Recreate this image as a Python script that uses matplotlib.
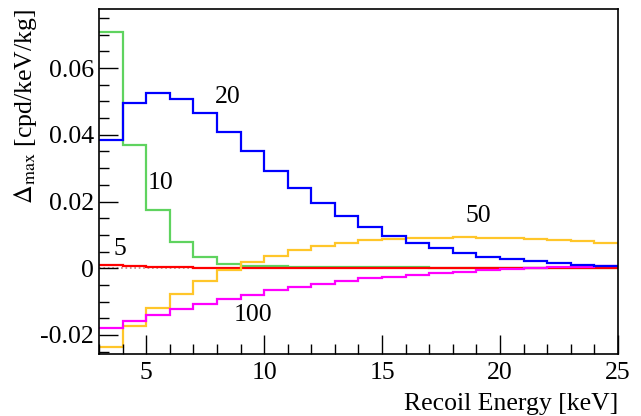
import numpy as np
import matplotlib
matplotlib.use("Agg")
import matplotlib.pyplot as plt
from matplotlib.ticker import MultipleLocator

plt.rcParams['font.family'] = ['Liberation Serif', 'DejaVu Serif']
plt.rcParams['mathtext.fontset'] = 'stix'

# bin edges in keV (1 keV bins from 3 to 25)
edges = np.arange(3, 26)

# Delta_max per bin for each mass [GeV]
d5 = [0.0011, 0.0007, 0.0005, 0.0003, 0.0002, 0.0001, 0.0001, 0.0001, 0.0001, 0.0001, 0.0001,
      0.0001, 0.0001, 0.0001, 0.0001, 0.0001, 0.0001, 0.0001, 0.0001, 0.0001, 0.0001, 0.0001]
d10 = [0.0707, 0.0368, 0.0176, 0.0080, 0.0035, 0.0013, 0.0007, 0.0007, 0.0005, 0.0004, 0.0004,
       0.0003, 0.0003, 0.0003, 0.0002, 0.0002, 0.0002, 0.0002, 0.0001, 0.0001, 0.0001, 0.0001]
d20 = [0.0385, 0.0496, 0.0526, 0.0508, 0.0465, 0.0408, 0.0350, 0.0292, 0.0240, 0.0195, 0.0158,
       0.0125, 0.0097, 0.0077, 0.0060, 0.0045, 0.0035, 0.0028, 0.0022, 0.0016, 0.0011, 0.0008]
d50 = [-0.0237, -0.0174, -0.0120, -0.0076, -0.0037, -0.0004, 0.0019, 0.0038, 0.0055, 0.0067, 0.0077,
       0.0085, 0.0089, 0.0090, 0.0092, 0.0093, 0.0092, 0.0090, 0.0087, 0.0084, 0.0081, 0.0077]
d100 = [-0.0179, -0.0158, -0.0139, -0.0122, -0.0107, -0.0092, -0.0079, -0.0066, -0.0056, -0.0046, -0.0037,
        -0.0030, -0.0025, -0.0021, -0.0014, -0.0010, -0.0005, -0.0002, 0.0002, 0.0004, 0.0005, 0.0007]

yticks = [-0.02, 0, 0.02, 0.04, 0.06]
ytick_labels = ['-0.02', '0', '0.02', '0.04', '0.06']
xticks = [5, 10, 15, 20, 25]

fig = plt.figure(figsize=(6.41, 4.16), dpi=100)
ax = fig.add_axes([0.1544, 0.149, 0.8097, 0.8294])

ax.axhline(0, color='#c08080', ls=':', lw=1.2, zorder=1)
ax.stairs(d10, edges, color='#5fd35f', lw=1.6, baseline=None)
ax.stairs(d5, edges, color='#ff0000', lw=1.6, baseline=None)
ax.stairs(d50, edges, color='#ffc62a', lw=1.6, baseline=None)
ax.stairs(d100, edges, color='#ff00ff', lw=1.6, baseline=None)
ax.stairs(d20, edges, color='#0000ff', lw=1.6, baseline=None)

fs = 18.5
ax.text(8.44, 0.0513, '20', fontsize=fs, ha='center', va='center')
ax.text(5.61, 0.0256, '10', fontsize=fs, ha='center', va='center')
ax.text(3.88, 0.0058, '5', fontsize=fs, ha='center', va='center')
ax.text(19.1, 0.0157, '50', fontsize=fs, ha='center', va='center')
ax.text(9.54, -0.0139, '100', fontsize=fs, ha='center', va='center')

ax.set_xlim(3, 25)
ax.set_ylim(-0.0257, 0.0777)
ax.set_xticks(xticks)
ax.set_xticklabels([str(t) for t in xticks])
ax.set_yticks(yticks)
ax.set_yticklabels(ytick_labels)
ax.xaxis.set_minor_locator(MultipleLocator(1))
ax.yaxis.set_minor_locator(MultipleLocator(0.005))
ax.tick_params(which='both', direction='in', labelsize=fs, top=False, right=False)
ax.tick_params(which='major', length=14, width=1)
ax.tick_params(which='minor', length=7, width=1)
ax.tick_params(axis='x', pad=6)

ax.set_xlabel('Recoil Energy [keV]', fontsize=fs, loc='right', labelpad=6)
ax.set_ylabel(r'$\Delta_{\rm max}$ [cpd/keV/kg]', fontsize=fs, loc='top', labelpad=1)

for s in ax.spines.values():
    s.set_linewidth(1.2)

fig.savefig('out.png', dpi=100)
